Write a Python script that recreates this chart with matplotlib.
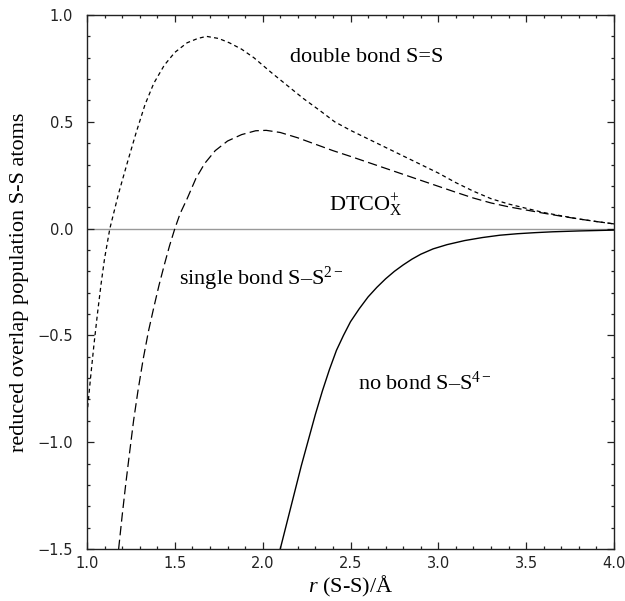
import matplotlib
matplotlib.use("Agg")
import matplotlib.pyplot as plt
from matplotlib.ticker import MultipleLocator, FuncFormatter

plt.rcParams['mathtext.fontset'] = 'custom'
plt.rcParams['mathtext.rm'] = 'Liberation Serif'
plt.rcParams['mathtext.it'] = 'Liberation Serif:italic'

# double bond S=S (short dashes)
double_x = [1.00, 1.02, 1.04, 1.06, 1.08, 1.10, 1.13, 1.18, 1.23, 1.28, 1.33, 1.38, 1.44,
            1.50, 1.57, 1.63, 1.68, 1.75, 1.81, 1.88, 1.95, 2.05, 2.14, 2.23, 2.33,
            2.41, 2.50, 2.60, 2.70, 2.80, 2.90, 3.00, 3.10, 3.20, 3.30, 3.40, 3.50,
            3.60, 3.70, 3.80, 3.90, 4.00]
double_y = [-0.87, -0.70, -0.54, -0.395, -0.26, -0.14, 0.00, 0.165, 0.31, 0.45, 0.58, 0.68, 0.765,
            0.825, 0.87, 0.89, 0.90, 0.89, 0.87, 0.84, 0.80, 0.73, 0.67, 0.61, 0.55,
            0.50, 0.46, 0.42, 0.38, 0.34, 0.30, 0.26, 0.215, 0.175, 0.14, 0.115, 0.095,
            0.075, 0.06, 0.045, 0.033, 0.022]

# single bond S-S2- (long dashes)
single_x = [1.18, 1.20, 1.22, 1.24, 1.265, 1.29, 1.32, 1.35, 1.38, 1.41, 1.44, 1.47,
            1.50, 1.53, 1.57, 1.62, 1.67, 1.73, 1.80, 1.88, 1.96, 2.02, 2.10, 2.20,
            2.30, 2.40, 2.50, 2.60, 2.70, 2.80, 2.90, 3.00, 3.10, 3.20, 3.30, 3.40,
            3.50, 3.60, 3.70, 3.80, 3.90, 4.00]
single_y = [-1.50, -1.345, -1.20, -1.065, -0.90, -0.76, -0.61, -0.48, -0.37, -0.265, -0.17, -0.08,
            0.00, 0.07, 0.14, 0.235, 0.305, 0.365, 0.41, 0.44, 0.458, 0.46, 0.45, 0.425,
            0.395, 0.365, 0.338, 0.31, 0.282, 0.254, 0.226, 0.198, 0.17, 0.143, 0.12, 0.102,
            0.087, 0.072, 0.058, 0.045, 0.033, 0.022]

# no bond S-S4- (solid)
nobond_x = [2.10, 2.14, 2.18, 2.22, 2.26, 2.30, 2.34, 2.38, 2.42, 2.46, 2.50, 2.55,
            2.60, 2.65, 2.70, 2.75, 2.80, 2.85, 2.90, 2.97, 3.05, 3.15, 3.25, 3.35,
            3.45, 3.55, 3.65, 3.80, 4.00]
nobond_y = [-1.50, -1.37, -1.24, -1.11, -0.99, -0.87, -0.76, -0.66, -0.57, -0.50, -0.436, -0.375,
            -0.32, -0.275, -0.235, -0.20, -0.17, -0.143, -0.12, -0.095, -0.075, -0.056, -0.042, -0.031,
            -0.024, -0.019, -0.015, -0.011, -0.007]

x_ticks = [1.0, 1.5, 2.0, 2.5, 3.0, 3.5, 4.0]
y_ticks = [-1.5, -1.0, -0.5, 0.0, 0.5, 1.0]

fig = plt.figure(figsize=(6.25, 6.01), dpi=100)
ax = fig.add_axes([87/625, 1-549/601, (614-87)/625, (549-15)/601])

ax.axhline(0, color='#999999', lw=1.0, zorder=1)
ax.plot(double_x, double_y, color='black', lw=0.9, dashes=(3.2, 2.6), zorder=2)
ax.plot(single_x, single_y, color='black', lw=0.9, dashes=(7.5, 3.5), zorder=2)
ax.plot(nobond_x, nobond_y, color='black', lw=1.0, zorder=2)

fmt = FuncFormatter(lambda v, p: ('%.1f' % v).replace('-', '\u2212'))
ax.set_xlim(1.0, 4.0)
ax.set_ylim(-1.5, 1.0)
ax.set_xticks(x_ticks)
ax.set_yticks(y_ticks)
ax.xaxis.set_minor_locator(MultipleLocator(0.1))
ax.yaxis.set_minor_locator(MultipleLocator(0.1))
ax.xaxis.set_major_formatter(fmt)
ax.yaxis.set_major_formatter(fmt)
ax.tick_params(which='both', direction='in', top=True, right=True, width=0.9, color='#222222')
ax.tick_params(which='major', length=5)
ax.tick_params(which='minor', length=2.5)
ax.tick_params(axis='x', which='major', pad=5, labelsize=10.5, labelcolor='#222222')
ax.tick_params(axis='y', which='major', pad=10, labelsize=10.5, labelcolor='#222222')
for lab in ax.get_xticklabels() + ax.get_yticklabels():
    lab.set_fontfamily('DejaVu Sans')
for sp in ax.spines.values():
    sp.set_linewidth(1.0)
    sp.set_color('#222222')

serif = 'Liberation Serif'
ax.set_ylabel('reduced overlap population S-S atoms', fontsize=16, fontfamily=serif, labelpad=6)
ax.set_xlabel(r'$r$ (S-S)/Å', fontsize=16, fontfamily=serif, labelpad=2)

ax.text(2.155, 0.80, 'double bond S=S', fontsize=16, fontfamily=serif, va='center', ha='left')
ax.text(2.375, 0.11, r'DTCO$^{+}_{\mathrm{X}}$', fontsize=16, fontfamily=serif, va='center', ha='left')
ax.text(1.523, -0.234, r'single bond S–S$^{2-}$', fontsize=16, fontfamily=serif, va='center', ha='left')
ax.text(2.54, -0.724, r'no bond S–S$^{4-}$', fontsize=16, fontfamily=serif, va='center', ha='left')

fig.savefig('out.png', dpi=100)
